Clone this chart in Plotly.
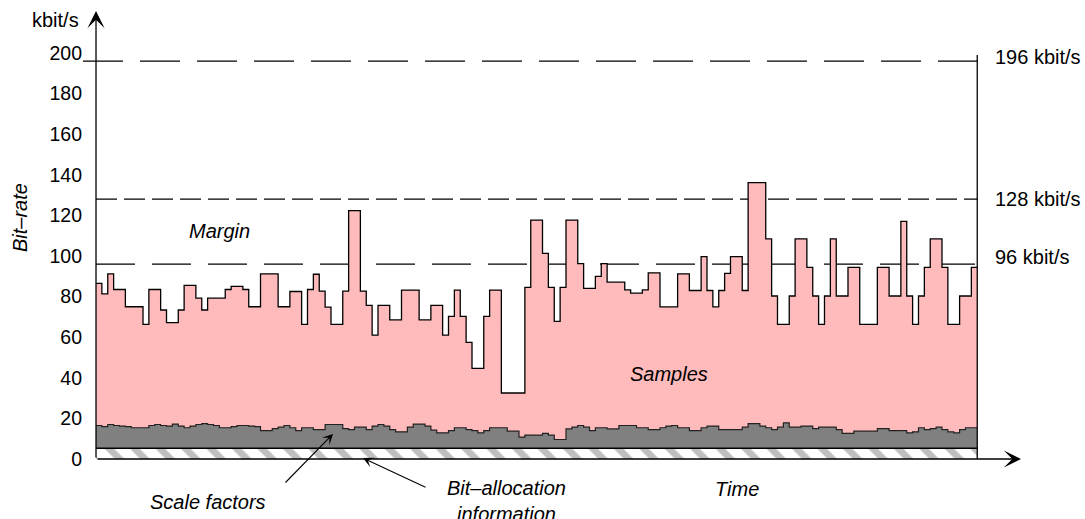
import plotly.graph_objects as go

# ---------------- data ----------------
# total bit-rate per frame (kbit/s), one value per frame
samples = [
    86.5, 81.3, 91.2, 83.5, 83.5, 75, 75, 75, 66.3, 83.5,
    83.5, 73.4, 67.2, 67.2, 73.4, 85.5, 85.5, 79.2, 73.4, 79.2,
    79.2, 79.2, 83.5, 85, 85, 83.5, 75, 75, 91.2, 91.2,
    91.2, 75, 75, 82.5, 82.5, 66.3, 83.5, 91, 82.7, 74.8,
    66.3, 66.3, 82.7, 122.3, 122.3, 82.7, 75.7, 61, 75.7, 75.7,
    68.5, 68.5, 83.2, 83.2, 83.2, 68.5, 68.5, 75.7, 75.7, 61,
    70.3, 83.2, 70.3, 57.4, 44.6, 44.6, 70.3, 83.2, 83.2, 32.5,
    32.5, 32.5, 32.5, 84.5, 117.7, 117.7, 101.3, 84.5, 67.8, 84.5,
    117.7, 117.7, 96.2, 84, 84, 90, 96.2, 87.1, 87.1, 87.1,
    83.3, 81.7, 81.7, 83.3, 91.7, 91.7, 74.9, 74.9, 74.9, 91.2,
    91.2, 83, 83, 99.7, 83, 74.9, 83, 91.4, 99.7, 99.7,
    83, 136.1, 136.1, 136.1, 108.4, 80.3, 66.3, 66.3, 80.3, 108.4,
    108.4, 94.4, 80.3, 66.3, 80.3, 108.4, 80.3, 80.3, 94.4, 94.4,
    66.3, 66.3, 66.3, 94.4, 94.4, 80.3, 80.3, 117, 80.3, 66.3,
    80.3, 94.4, 108.4, 108.4, 94.4, 66.3, 66.3, 80.3, 80.3, 94.4,
]

# scale factors + bit allocation per frame (kbit/s)
scale_factors = [
    16.5, 15.9, 17.0, 16.5, 16.2, 15.9, 15.4, 15.4, 15.4, 16.5,
    17.0, 16.5, 16.2, 17.2, 16.2, 15.4, 16.2, 17.0, 17.4, 17.0,
    16.5, 15.4, 15.4, 15.9, 16.5, 16.5, 16.2, 15.9, 14.0, 14.0,
    15.0, 15.7, 16.5, 15.4, 14.0, 15.4, 15.4, 14.5, 14.5, 17.0,
    17.0, 17.0, 15.0, 14.5, 15.7, 15.7, 14.5, 16.2, 17.0, 16.2,
    14.5, 13.4, 13.4, 15.7, 17.2, 17.2, 16.2, 14.2, 12.9, 12.9,
    14.0, 15.4, 15.4, 14.5, 14.0, 12.9, 14.0, 15.4, 15.4, 15.4,
    13.7, 13.7, 10.8, 11.8, 11.8, 11.8, 12.6, 11.8, 9.6, 9.6,
    14.8, 15.7, 16.5, 15.7, 14.0, 15.4, 15.4, 14.8, 14.8, 16.5,
    16.5, 16.5, 15.4, 15.4, 14.5, 14.5, 15.4, 16.2, 16.5, 15.4,
    15.4, 14.0, 14.0, 15.4, 16.2, 16.2, 14.5, 14.5, 14.5, 14.5,
    15.7, 17.4, 17.4, 16.2, 15.4, 14.5, 15.7, 17.8, 15.7, 15.7,
    16.2, 16.2, 15.0, 15.7, 15.7, 15.7, 14.5, 12.6, 12.6, 13.7,
    13.7, 13.7, 13.7, 15.0, 15.0, 14.0, 14.0, 14.0, 12.9, 13.4,
    15.4, 14.5, 15.0, 15.7, 14.5, 13.4, 12.9, 14.5, 15.4, 15.4,
]

bit_allocation = 5.3            # constant bit-allocation information (kbit/s)
ref_rates = [196, 128, 96]      # reference bit-rates (kbit/s)
ref_labels = ["196 kbit/s", "128 kbit/s", "96 kbit/s"]
y_ticks = [0, 20, 40, 60, 80, 100, 120, 140, 160, 180, 200]

# ---------------- geometry / style ----------------
N = len(samples)
frames = list(range(N + 1))
X_MIN, X_MAX = -2.214, 150.3
Y_MAX = 218.7
L, R, T, B = 83, 106, 15, 60
FIG_W, FIG_H = 1085, 519
PW = FIG_W - L - R
PH = FIG_H - T - B
FONT = "Liberation Sans, Arial, sans-serif"
PINK = "#FFBBBB"
GREY = "#808080"


def px(x):
    return (x - L) / PW


def py(y):
    return (FIG_H - B - y) / PH


def steps(v):
    return list(v) + [v[-1]]


fig = go.Figure()

# reference (dashed) lines, drawn first so the fills cover them
dash_styles = ["40px,17px", "21px,7px", "39px,17px"]
line_starts = [X_MIN, 0, 0]
for rate, dsh, x0 in zip(ref_rates, dash_styles, line_starts):
    fig.add_trace(go.Scatter(
        x=[x0, N], y=[rate, rate], mode="lines",
        line=dict(color="black", width=1.3, dash=dsh),
        hoverinfo="skip"))

# samples (total bit-rate)
fig.add_trace(go.Scatter(
    x=frames, y=steps(samples), mode="lines", line_shape="hv",
    line=dict(color="black", width=1.3), fill="tozeroy", fillcolor=PINK,
    hoverinfo="skip"))

# scale factors
fig.add_trace(go.Scatter(
    x=frames, y=steps(scale_factors), mode="lines", line_shape="hv",
    line=dict(color="#222222", width=1.2), fill="tozeroy", fillcolor=GREY,
    hoverinfo="skip"))

# bit allocation (hatched)
fig.add_trace(go.Scatter(
    x=[0, N], y=[bit_allocation, bit_allocation], mode="lines",
    line=dict(color="black", width=1.3), fill="tozeroy", fillcolor="white",
    fillpattern=dict(shape="\\", fgcolor=GREY, bgcolor="white", size=18, solidity=0.38),
    hoverinfo="skip"))

# right-hand frame line
fig.add_trace(go.Scatter(
    x=[N, N], y=[0, 199], mode="lines",
    line=dict(color="black", width=1.3), hoverinfo="skip"))

annotations = []

# axes arrows
annotations.append(dict(x=0, xref="x", y=py(11), yref="paper", ax=0, ay=448,
                        showarrow=True, arrowhead=3, arrowsize=2.2, arrowwidth=1.3,
                        arrowcolor="black", text=""))
annotations.append(dict(x=px(1021), xref="paper", y=0, yref="y", ax=-925, ay=0,
                        showarrow=True, arrowhead=3, arrowsize=2.2, arrowwidth=1.3,
                        arrowcolor="black", text=""))

# texts
def txt(t, x, y, **kw):
    d = dict(text=t, x=px(x), y=py(y), xref="paper", yref="paper",
             showarrow=False, xanchor="center", yanchor="middle",
             font=dict(family=FONT, size=20, color="black"))
    d.update(kw)
    return d

annotations.append(txt("kbit/s", 55, 20))
annotations.append(txt("<i>Bit–rate</i>", 20, 218, textangle=-90))
annotations.append(txt("<i>Margin</i>", 219.5, 231))
annotations.append(txt("<i>Samples</i>", 669, 374))
annotations.append(txt("<i>Time</i>", 737, 489))
annotations.append(txt("<i>Scale factors</i>", 208, 502))
annotations.append(txt("<i>Bit–allocation<br>information</i>", 506, 501))
for lab, yy in zip(ref_labels, [57, 199, 257]):
    annotations.append(txt(lab, 993, yy, xanchor="left"))

# pointer arrows
annotations.append(dict(x=px(333), y=py(434), xref="paper", yref="paper", ax=-49, ay=50,
                        showarrow=True, arrowhead=3, arrowsize=1.6, arrowwidth=1.1,
                        arrowcolor="black", text=""))
annotations.append(dict(x=px(363), y=py(458), xref="paper", yref="paper", ax=64, ay=30,
                        showarrow=True, arrowhead=3, arrowsize=1.6, arrowwidth=1.1,
                        arrowcolor="black", text=""))

fig.update_layout(
    width=FIG_W, height=FIG_H,
    margin=dict(l=L, r=R, t=T, b=B, pad=0),
    plot_bgcolor="white", paper_bgcolor="white",
    showlegend=False,
    font=dict(family=FONT, size=20, color="black"),
    xaxis=dict(range=[X_MIN, X_MAX], showgrid=False, zeroline=False, showline=False,
               showticklabels=False, ticks="", automargin=False),
    yaxis=dict(range=[0, Y_MAX], showgrid=False, zeroline=False, showline=False,
               tickvals=y_ticks, ticktext=[str(v) for v in y_ticks], ticks="",
               automargin=False,
               tickfont=dict(family=FONT, size=19.5, color="black")),
    annotations=annotations,
)

fig.write_html("out.html",
               config={"displayModeBar": False},
               post_script="document.body.style.margin='0px';document.body.style.overflow='hidden';")
